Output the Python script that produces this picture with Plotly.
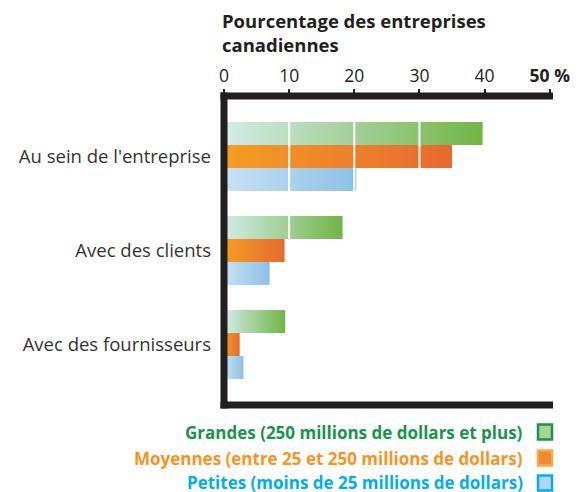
import plotly.graph_objects as go

categories = ["Au sein de l'entreprise", "Avec des clients", "Avec des fournisseurs"]
series_names = [
    "Grandes (250 millions de dollars et plus)",
    "Moyennes (entre 25 et 250 millions de dollars)",
    "Petites (moins de 25 millions de dollars)",
]
grandes = [39.7, 18.2, 9.4]
moyennes = [35.0, 9.3, 2.4]
petites = [20.3, 7.0, 3.0]
tick_vals = [0, 10, 20, 30, 40, 50]
tick_text = ["0", "10", "20", "30", "40", "<b>50 %</b>"]

series_values = [grandes, moyennes, petites]
grad_scales = [
    [[0, "#d3ece9"], [1, "#72b545"]],
    [[0, "#f59e23"], [1, "#e76930"]],
    [[0, "#c8e2f4"], [1, "#8cc1e5"]],
]
text_colors = ["#17954a", "#f7941d", "#00aeef"]
offsets = [-0.245, 0.0, 0.245]
half_h = 0.1225

W, H = 585, 492
L, R, T, B = 224, 32, 96, 87
pw, ph = W - L - R, H - T - B

fig = go.Figure()
for s, vals in enumerate(series_values):
    for i, v in enumerate(vals):
        yc = i + offsets[s]
        fig.add_trace(go.Scatter(
            x=[0, v, v, 0, 0],
            y=[yc - half_h, yc - half_h, yc + half_h, yc + half_h, yc - half_h],
            mode="lines", line=dict(width=0),
            fill="toself",
            fillgradient=dict(type="horizontal", colorscale=grad_scales[s]),
            name=series_names[s], showlegend=False,
            hoverinfo="text", text=f"{categories[i]}: {v}%",
        ))

shapes = []
# white grid lines over bars
for v in tick_vals[1:-1]:
    shapes.append(dict(type="line", xref="x", yref="paper", x0=v, x1=v, y0=0, y1=1,
                       line=dict(color="white", width=2), layer="above"))
ext_x = 3.5 / pw
ext_y = 3.5 / ph
axis_col = "#231f20"
shapes += [
    dict(type="line", xref="paper", yref="paper", x0=0, x1=0, y0=-ext_y, y1=1 + ext_y,
         line=dict(color=axis_col, width=7), layer="above"),
    dict(type="line", xref="paper", yref="paper", x0=-ext_x, x1=1, y0=1, y1=1,
         line=dict(color=axis_col, width=7), layer="above"),
    dict(type="line", xref="paper", yref="paper", x0=-ext_x, x1=1, y0=0, y1=0,
         line=dict(color=axis_col, width=7), layer="above"),
]

# legend (text on the left, box on the right)
legend_y = [432, 458, 483]
box_fill = ["#a9d296", "#ef8a2a", "#b3d6f0"]
box_line = ["#17954a", "#f7a84a", "#00aeef"]
annotations = []
for s in range(3):
    py = (T + ph - legend_y[s]) / ph
    annotations.append(dict(
        xref="paper", yref="paper", x=(525 - L) / pw, y=py, xanchor="right", yanchor="middle",
        text=f"<b>{series_names[s]}</b>", showarrow=False,
        font=dict(family="Open Sans", size=17, color=text_colors[s]),
    ))
    y0 = (T + ph - (legend_y[s] - 7.5)) / ph
    y1 = (T + ph - (legend_y[s] + 7.5)) / ph
    shapes.append(dict(type="rect", xref="paper", yref="paper",
                       x0=(538 - L) / pw, x1=(552 - L) / pw, y0=y0, y1=y1,
                       fillcolor=box_fill[s], line=dict(color=box_line[s], width=2.5)))

fig.update_layout(
    width=W, height=H, autosize=False,
    margin=dict(l=L, r=R, t=T, b=B, pad=0),
    plot_bgcolor="white", paper_bgcolor="white",
    title=dict(text="<b>Pourcentage des entreprises<br>canadiennes</b>",
               xref="container", yref="container", x=222 / W, xanchor="left",
               y=1 - 28 / H, yanchor="top",
               font=dict(family="Open Sans", size=18.5, color=axis_col)),
    xaxis=dict(side="top", range=[0, 50.5], tickvals=tick_vals, ticktext=tick_text,
               showgrid=False, zeroline=False, showline=False,
               ticks="outside", ticklen=6, tickwidth=1.5, tickcolor=axis_col,
               tickfont=dict(family="Open Sans", size=17.5, color=axis_col)),
    yaxis=dict(range=[2.644, -0.644], tickvals=[0, 1, 2], ticktext=categories,
               showgrid=False, zeroline=False, showline=False, ticks="",
               ticklabelstandoff=12,
               tickfont=dict(family="Open Sans", size=18.5, color="#333333")),
    shapes=shapes, annotations=annotations, showlegend=False,
)

fig.write_html("out.html", config={"displayModeBar": False},
               post_script="document.body.style.margin='0';document.body.style.padding='0';")
